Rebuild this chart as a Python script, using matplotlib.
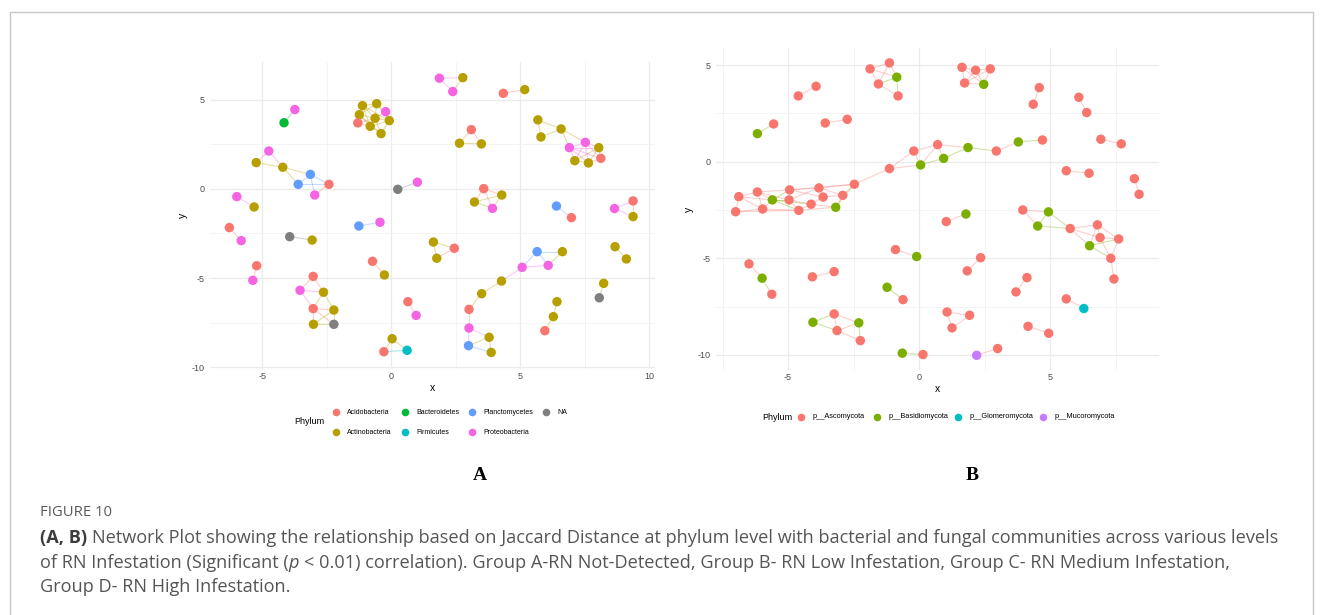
import matplotlib.pyplot as plt
from matplotlib.collections import LineCollection
from matplotlib.patches import Rectangle
from matplotlib.ticker import MultipleLocator

plt.rcParams['font.family'] = ['Liberation Sans', 'DejaVu Sans']
plt.rcParams['axes.unicode_minus'] = False

W, H = 1322, 615

# ---- bacterial network (panel A) ----
a_levels = ['Acidobacteria', 'Actinobacteria', 'Bacteroidetes', 'Firmicutes',
            'Planctomycetes', 'Proteobacteria', 'NA']
a_codes = ['Aci', 'Act', 'Bac', 'Fir', 'Pla', 'Pro', 'NA']
a_palette = ['#F8766D', '#B79F00', '#00BA38', '#00BFC4', '#619CFF', '#F564E3', '#7F7F7F']

a_x = [-4.15, -3.73, -4.74, -5.23, -4.20, -3.13, -3.60, -2.41, -2.96, -5.98,
       -5.31, 0.26, 1.02, -1.25, -0.43, -1.11, -0.56, -0.21, -1.23, -0.62,
       -0.07, -1.29, -0.81, -0.39, 1.87, 2.78, 2.39, 4.35, 5.18, 3.11,
       2.65, 3.50, 5.69, 6.59, 5.81, 7.53, 6.91, 8.05, 8.13, 7.12,
       7.65, 3.59, 4.29, 3.23, 3.93, 6.41, 6.99, 8.66, 9.38, 9.38,
       -6.27, -5.81, -3.93, -3.06, -5.21, -5.36, -0.72, -0.26, -3.02, -3.53,
       -2.62, -3.02, -2.22, -3.01, -2.22, 0.65, 0.97, 0.04, 0.62, -0.28,
       1.64, 2.45, 1.77, 5.66, 6.64, 5.08, 6.09, 4.28, 3.51, 3.02,
       3.02, 3.80, 3.00, 3.88, 6.43, 6.29, 5.96, 8.68, 9.12, 8.24,
       8.07]
a_y = [3.72, 4.46, 2.13, 1.48, 1.22, 0.82, 0.26, 0.26, -0.34, -0.43,
       -1.01, -0.02, 0.38, -2.08, -1.87, 4.68, 4.79, 4.34, 4.17, 3.97,
       3.84, 3.71, 3.52, 3.11, 6.22, 6.25, 5.47, 5.37, 5.58, 3.33,
       2.57, 2.53, 3.88, 3.37, 2.92, 2.62, 2.32, 2.32, 1.72, 1.59,
       1.46, 0.02, -0.34, -0.73, -1.09, -0.96, -1.61, -1.10, -0.67, -1.55,
       -2.17, -2.90, -2.68, -2.87, -4.31, -5.13, -4.06, -4.83, -4.91, -5.69,
       -5.80, -6.72, -6.80, -7.60, -7.60, -6.33, -7.10, -8.41, -9.06, -9.14,
       -2.98, -3.33, -3.89, -3.52, -3.52, -4.40, -4.29, -5.17, -5.88, -6.76,
       -7.81, -8.33, -8.80, -9.18, -6.33, -7.17, -7.96, -3.24, -3.93, -5.30,
       -6.11]
a_phylum = ['Bac', 'Pro', 'Pro', 'Act', 'Act', 'Pla', 'Pla', 'Aci', 'Pro', 'Pro',
            'Act', 'NA', 'Pro', 'Pla', 'Pro', 'Act', 'Act', 'Pro', 'Act', 'Act',
            'Act', 'Aci', 'Act', 'Act', 'Pro', 'Act', 'Pro', 'Aci', 'Act', 'Aci',
            'Act', 'Act', 'Act', 'Act', 'Act', 'Pro', 'Pro', 'Act', 'Aci', 'Act',
            'Act', 'Aci', 'Act', 'Act', 'Pro', 'Pla', 'Aci', 'Pro', 'Aci', 'Act',
            'Aci', 'Pro', 'NA', 'Act', 'Aci', 'Pro', 'Aci', 'Act', 'Aci', 'Pro',
            'Act', 'Aci', 'Act', 'Act', 'NA', 'Aci', 'Pro', 'Act', 'Fir', 'Aci',
            'Act', 'Aci', 'Act', 'Pla', 'Act', 'Pro', 'Pro', 'Act', 'Act', 'Aci',
            'Pro', 'Act', 'Pla', 'Act', 'Act', 'Act', 'Aci', 'Act', 'Act', 'Act',
            'NA']
a_edges = [(0, 1),
           (2, 3), (2, 4), (3, 4), (4, 5), (4, 6), (5, 6), (5, 7), (6, 7), (5, 8), (7, 8),
           (9, 10), (11, 12), (13, 14),
           (15, 16), (15, 18), (15, 19), (15, 22), (16, 17), (16, 19), (16, 20), (16, 18),
           (17, 20), (17, 19), (18, 21), (18, 19), (18, 22), (19, 20), (19, 22), (19, 23),
           (20, 23), (20, 22), (21, 22), (21, 19), (22, 23), (15, 20), (18, 23),
           (24, 25), (24, 26), (25, 26), (27, 28), (29, 30), (29, 31), (30, 31),
           (32, 33), (32, 34), (34, 33), (33, 36), (33, 35), (35, 36), (35, 37), (35, 38),
           (35, 39), (35, 40), (36, 37), (36, 39), (36, 40), (36, 38), (37, 38), (37, 40),
           (38, 40), (39, 40), (37, 39),
           (41, 42), (41, 43), (41, 44), (42, 43), (42, 44), (43, 44),
           (45, 46), (47, 48), (47, 49), (48, 49), (50, 51), (52, 53), (54, 55), (56, 57),
           (58, 59), (58, 60), (59, 60), (59, 61), (60, 61), (60, 62), (61, 62), (61, 63),
           (61, 64), (62, 63), (62, 64), (63, 64),
           (65, 66), (67, 68), (67, 69), (68, 69), (70, 71), (70, 72), (71, 72),
           (73, 74), (73, 75), (73, 76), (74, 76), (75, 76), (75, 77), (77, 78), (78, 79),
           (79, 80), (80, 81), (80, 82), (81, 82), (81, 83), (82, 83),
           (84, 85), (85, 86), (87, 88), (89, 90)]

# ---- fungal network (panel B) ----
b_levels = ['p__Ascomycota', 'p__Basidiomycota', 'p__Glomeromycota', 'p__Mucoromycota']
b_codes = ['Asc', 'Bas', 'Glo', 'Muc']
b_palette = ['#F8766D', '#7CAE00', '#00BFC4', '#C77CFF']

b_x = [-1.87, -1.13, -0.85, -1.55, -0.80, -4.61, -3.93, -6.17, -5.55, -3.58,
       -2.74, -6.88, -6.17, -5.60, -4.94, -4.96, -3.82, -3.66, -2.91, -4.12,
       -7.00, -5.97, -4.59, -3.18, -2.47, -1.13, -0.20, 0.71, 0.06, 0.94,
       1.87, 2.95, 3.79, 4.71, 1.64, 2.16, 2.72, 1.74, 2.47, 4.59,
       4.36, 6.10, 6.40, 6.94, 7.72, 5.62, 6.49, 8.22, 8.40, 1.04,
       1.79, 3.96, 4.94, 4.53, 5.77, 6.81, 6.91, 7.62, 6.51, 7.32,
       7.44, -0.90, -0.09, 2.35, 1.84, 4.12, 3.70, 5.62, 6.29, 1.07,
       1.93, 1.26, 4.16, 4.95, 3.00, 2.20, -0.64, 0.15, -6.49, -5.99,
       -5.62, -4.07, -3.24, -4.05, -3.24, -3.13, -2.30, -2.24, -1.22, -0.61]
b_y = [4.80, 5.11, 4.37, 4.02, 3.40, 3.40, 3.90, 1.45, 1.95, 2.00,
       2.19, -1.81, -1.57, -1.98, -1.46, -1.98, -1.36, -1.83, -1.74, -2.20,
       -2.59, -2.45, -2.52, -2.36, -1.17, -0.36, 0.55, 0.88, -0.17, 0.17,
       0.73, 0.55, 1.02, 1.12, 4.88, 4.73, 4.80, 4.07, 4.00, 3.83,
       2.97, 3.33, 2.54, 1.16, 0.92, -0.47, -0.60, -0.88, -1.69, -3.10,
       -2.71, -2.50, -2.60, -3.33, -3.46, -3.27, -3.93, -4.00, -4.35, -5.00,
       -6.07, -4.55, -4.91, -4.97, -5.65, -6.00, -6.74, -7.10, -7.60, -7.78,
       -7.95, -8.60, -8.52, -8.88, -9.67, -10.02, -9.91, -9.98, -5.29, -6.03,
       -6.86, -5.96, -5.69, -8.31, -7.88, -8.74, -8.34, -9.26, -6.50, -7.14]
b_phylum = ['Asc', 'Asc', 'Bas', 'Asc', 'Asc', 'Asc', 'Asc', 'Bas', 'Asc', 'Asc',
            'Asc', 'Asc', 'Asc', 'Bas', 'Asc', 'Asc', 'Asc', 'Asc', 'Asc', 'Asc',
            'Asc', 'Asc', 'Asc', 'Bas', 'Asc', 'Asc', 'Asc', 'Asc', 'Bas', 'Bas',
            'Bas', 'Asc', 'Bas', 'Asc', 'Asc', 'Asc', 'Asc', 'Asc', 'Bas', 'Asc',
            'Asc', 'Asc', 'Asc', 'Asc', 'Asc', 'Asc', 'Asc', 'Asc', 'Asc', 'Asc',
            'Bas', 'Asc', 'Bas', 'Bas', 'Asc', 'Asc', 'Asc', 'Asc', 'Bas', 'Asc',
            'Asc', 'Asc', 'Bas', 'Asc', 'Asc', 'Asc', 'Asc', 'Asc', 'Glo', 'Asc',
            'Asc', 'Asc', 'Asc', 'Asc', 'Asc', 'Muc', 'Bas', 'Asc', 'Asc', 'Bas',
            'Asc', 'Asc', 'Asc', 'Bas', 'Asc', 'Asc', 'Bas', 'Asc', 'Bas', 'Asc']
b_edges = [(0, 1), (0, 2), (0, 3), (1, 2), (1, 3), (2, 3), (2, 4), (3, 4),
           (5, 6), (7, 8), (9, 10),
           (11, 12), (11, 20), (11, 13), (11, 21), (12, 14), (12, 13), (12, 15), (12, 21),
           (13, 15), (13, 14), (13, 19), (13, 22), (14, 15), (14, 16), (14, 17), (15, 16),
           (15, 19), (15, 22), (16, 17), (16, 18), (16, 24), (17, 18), (17, 19), (18, 24),
           (18, 23), (19, 23), (19, 22), (21, 20), (21, 22), (22, 23), (23, 24), (20, 22),
           (14, 24), (21, 13),
           (24, 25), (25, 26), (25, 28), (26, 27), (26, 28), (27, 28), (27, 29), (28, 29),
           (27, 30), (29, 30), (30, 31), (31, 32), (32, 33),
           (34, 35), (34, 37), (34, 38), (35, 36), (35, 37), (35, 38), (36, 38), (37, 38),
           (36, 37),
           (39, 40), (41, 42), (43, 44), (45, 46), (47, 48), (49, 50),
           (51, 52), (51, 53), (52, 53), (52, 54), (53, 54), (54, 55), (54, 56), (54, 58),
           (55, 56), (55, 58), (55, 57), (56, 57), (58, 57), (56, 59), (57, 59), (58, 59),
           (59, 60),
           (61, 62), (63, 64), (65, 66), (67, 68), (69, 70), (69, 71), (70, 71), (72, 73),
           (74, 75), (76, 77), (78, 79), (79, 80), (81, 82),
           (83, 84), (83, 85), (84, 85), (84, 86), (85, 86), (86, 87), (85, 87), (88, 89)]

caption_runs = [
    [('(A, B)', 'bold', 'normal'),
     (' Network Plot showing the relationship based on Jaccard Distance at phylum level '
      'with bacterial and fungal communities across various levels', 'normal', 'normal')],
    [('of RN Infestation (Significant (', 'normal', 'normal'), ('p', 'normal', 'italic'),
     (' < 0.01) correlation). Group A-RN Not-Detected, Group B- RN Low Infestation, '
      'Group C- RN Medium Infestation,', 'normal', 'normal')],
    [('Group D- RN High Infestation.', 'normal', 'normal')],
]

fig = plt.figure(figsize=(W / 100, H / 100), dpi=100)
fig.patch.set_facecolor('white')

# full-figure overlay in pixel units for frame, legends and caption
lay = fig.add_axes([0, 0, 1, 1])
lay.set_xlim(0, W)
lay.set_ylim(H, 0)
lay.axis('off')
lay.add_patch(Rectangle((9.5, 11.5), 1303, 700, fill=False, edgecolor='#c8c8c8', lw=1.0))


def px_axes(left, top, right, bottom):
    return fig.add_axes([left / W, 1 - bottom / H, (right - left) / W, (bottom - top) / H])


def draw_network(ax, xs, ys, phyla, codes, palette, edges):
    cols = [palette[codes.index(p)] for p in phyla]
    segs = [[(xs[i], ys[i]), (xs[j], ys[j])] for i, j in edges]
    ax.add_collection(LineCollection(segs, colors=[cols[i] for i, _ in edges],
                                     linewidths=0.8, alpha=0.35, zorder=1))
    ax.scatter(xs, ys, c=cols, s=46, linewidths=0, zorder=2)


def style_panel(ax, xlim, ylim, ylabpad):
    ax.set_xlim(xlim)
    ax.set_ylim(ylim)
    for a in (ax.xaxis, ax.yaxis):
        a.set_major_locator(MultipleLocator(5))
        a.set_minor_locator(MultipleLocator(2.5))
    ax.grid(which='major', color='#ebebeb', lw=0.9)
    ax.grid(which='minor', color='#f3f3f3', lw=0.6)
    ax.set_axisbelow(True)
    for s in ax.spines.values():
        s.set_visible(False)
    ax.tick_params(which='both', length=0, labelsize=6.5, labelcolor='#4d4d4d')
    ax.tick_params(axis='x', pad=2.5)
    ax.tick_params(axis='y', pad=3.6)
    ax.set_xlabel('x', fontsize=7.5, labelpad=1)
    ax.set_ylabel('y', fontsize=7.5, labelpad=ylabpad)


ax_a = px_axes(210, 62, 655, 369)
draw_network(ax_a, a_x, a_y, a_phylum, a_codes, a_palette, a_edges)
style_panel(ax_a, (-7.02, 10.23), (-10.11, 7.13), 3)

ax_b = px_axes(716, 48, 1159, 370)
draw_network(ax_b, b_x, b_y, b_phylum, b_codes, b_palette, b_edges)
style_panel(ax_b, (-7.75, 9.16), (-10.78, 5.88), 3)

# legend for A: two rows, filled column by column
lay.text(294, 422, 'Phylum', fontsize=6.5, va='center', ha='left')
a_cols = [336, 405, 472, 546]
for k, name in enumerate(a_levels):
    cx, cy = a_cols[k // 2], (412, 432)[k % 2]
    lay.scatter([cx], [cy], s=30, color=a_palette[k], linewidths=0)
    lay.text(cx + 11, cy, name, fontsize=5, va='center', ha='left')

# legend for B: one row
lay.text(762, 417, 'Phylum', fontsize=6.5, va='center', ha='left')
b_cols = [801, 877, 958, 1043]
for k, name in enumerate(b_levels):
    lay.scatter([b_cols[k]], [417], s=30, color=b_palette[k], linewidths=0)
    lay.text(b_cols[k] + 12, 417, name, fontsize=5.3, va='center', ha='left')

# panel letters
for lx, letter in ((480, 'A'), (972, 'B')):
    lay.text(lx, 476, letter, fontsize=14, fontweight='bold', family='Liberation Serif',
             va='center', ha='center')

# caption
renderer = fig.canvas.get_renderer()
cap_font = dict(family='Open Sans', fontsize=13.1, color='#555555')
lay.text(40, 513, 'FIGURE 10', family='Open Sans', fontsize=10.7, color='#5a5a5a',
         va='center', ha='left')


def text_width(s, **kw):
    t = lay.text(0, 0, s, **kw)
    w = t.get_window_extent(renderer=renderer).width
    t.remove()
    return w


space_w = text_width('a a', **cap_font) - text_width('aa', **cap_font)
for line_no, runs in enumerate(caption_runs):
    x = 40
    y = 538 + 24.5 * line_no
    for text, weight, style in runs:
        if text.startswith(' '):
            x += space_w
        t = lay.text(x, y, text.strip(), fontweight=weight, fontstyle=style,
                     va='center', ha='left', **cap_font)
        if weight == 'bold':
            t.set_color('#3c3c3c')
        x += t.get_window_extent(renderer=renderer).width
        if text.endswith(' '):
            x += space_w

fig.savefig('out.png', dpi=100, facecolor='white')
